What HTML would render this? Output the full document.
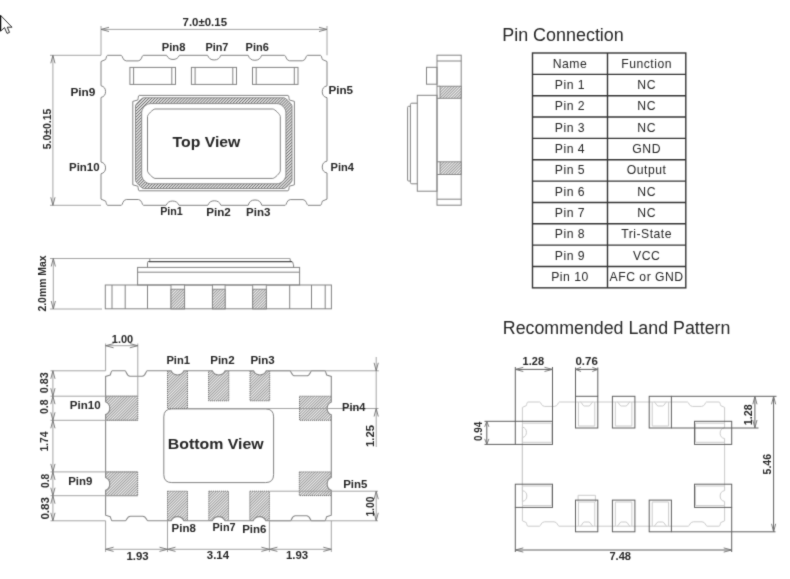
<!DOCTYPE html>
<html><head><meta charset="utf-8"><title>Crystal Oscillator Package Drawing</title>
<style>
html,body{margin:0;padding:0;background:#fff;}
body{width:790px;height:579px;overflow:hidden;}
svg{display:block;font-family:"Liberation Sans",sans-serif;filter:grayscale(1);}
.m{fill:none;stroke:#838383;stroke-width:1;}
.d line{stroke:#9a9a9a;stroke-width:0.9;fill:none;}
.d polyline{stroke:#737373;stroke-width:0.9;fill:none;}
.ar{fill:none;stroke-width:0.9;}
text{fill:#262626;}
</style></head><body>
<svg width="790" height="579" viewBox="0 0 790 579">
<defs>
<filter id="soft" x="0" y="0" width="790" height="579" filterUnits="userSpaceOnUse" color-interpolation-filters="sRGB"><feConvolveMatrix order="3" kernelMatrix="0.02 0.09 0.02 0.09 0.56 0.09 0.02 0.09 0.02" edgeMode="duplicate" preserveAlpha="true"/></filter>
<pattern id="h" patternUnits="userSpaceOnUse" width="2.1" height="2.1" patternTransform="rotate(45)">
<rect width="2.1" height="2.1" fill="#e6e6e6"/>
<rect x="0" y="0" width="0.8" height="2.1" fill="#6c6c6c"/>
</pattern>
<pattern id="h2" patternUnits="userSpaceOnUse" width="2.0" height="2.0" patternTransform="rotate(45)">
<rect width="2.0" height="2.0" fill="#f0f0f0"/>
<rect x="0" y="0" width="0.65" height="2.0" fill="#6e6e6e"/>
</pattern>
</defs>
<g filter="url(#soft)">
<rect width="790" height="579" fill="#fff"/>

<path d="M0.6,15.4 L0.6,31.2 L4.5,27.6 L7,33.4 L9.5,32.4 L7.3,27.2 L12,27.2 Z" fill="#fff" stroke="#1a1a1a" stroke-width="0.9" stroke-linejoin="miter"/><line x1="0.6" y1="15.6" x2="0.6" y2="30.8" stroke="#111" stroke-width="1.2"/>
<path class="m" d="M107.6,55.3 L121.2,55.3 C122.5,55.3 122.7,60.9 126.2,60.9 L138.2,60.9 C141.7,60.9 141.9,55.3 143.2,55.3 L166.6,55.3 A7,7 0 0 0 179.4,55.3 L207.6,55.3 A7,7 0 0 0 220.8,55.3 L248.2,55.3 A7,7 0 0 0 261.6,55.3 L284.6,55.3 C285.9,55.3 286.1,60.8 289.6,60.8 L302.3,60.8 C305.8,60.8 306,55.3 307.3,55.3 L320.4,55.3 C321.4,55.3 321.8,58.1 322.4,59.5 L327,61.5 L327,85.8 A6.1,6.1 0 0 0 327,97.7 L327,161.1 A6.1,6.1 0 0 0 327,173 L327,199.1 L322.4,201.1 C321.8,202.5 321.4,205.3 320.4,205.3 L308,205.3 C306.7,205.3 306.5,199.6 303,199.6 L290.2,199.6 C286.7,199.6 286.5,205.3 285.2,205.3 L261.8,205.3 A7,7 0 0 0 248.2,205.3 L220.9,205.3 A7,7 0 0 0 207.8,205.3 L179,205.3 A7,7 0 0 0 166.1,205.3 L143.4,205.3 C142.1,205.3 141.9,199.5 138.4,199.5 L126.3,199.5 C122.8,199.5 122.6,205.3 121.3,205.3 L107.6,205.3 C106.6,205.3 106.2,202.5 105.6,201.1 L101,199.1 L101,173.8 A6.1,6.1 0 0 0 101,162 L101,97.5 A6.1,6.1 0 0 0 101,85.7 L101,61.5 L105.6,59.5 C106.2,58.1 106.6,55.3 107.6,55.3 Z"/>
<rect class="m" x="129.9" y="67.4" width="45.6" height="17"/>
<line x1="133.6" y1="67.4" x2="133.6" y2="84.4" class="m"/>
<line x1="171.8" y1="67.4" x2="171.8" y2="84.4" class="m"/>
<rect class="m" x="191.4" y="67.4" width="45.1" height="17"/>
<line x1="195.1" y1="67.4" x2="195.1" y2="84.4" class="m"/>
<line x1="232.8" y1="67.4" x2="232.8" y2="84.4" class="m"/>
<rect class="m" x="252.5" y="67.4" width="45.5" height="17"/>
<line x1="256.2" y1="67.4" x2="256.2" y2="84.4" class="m"/>
<line x1="294.3" y1="67.4" x2="294.3" y2="84.4" class="m"/>
<path class="m" d="M139.1,95.4 L288.1,95.4 C289.1,95.4 288.8,98.6 289.4,100 L294.4,101.4 L294.4,184.8 L289.4,186.2 C288.8,187.6 289.1,190.8 288.1,190.8 L139.1,190.8 C138.1,190.8 138.4,187.6 137.8,186.2 L132.8,184.8 L132.8,101.4 L137.8,100 C138.4,98.6 138.1,95.4 139.1,95.4 Z"/>
<path d="M143.5,97.8 L284,97.8 C285.6,97.8 292,104.2 292,105.8 L292,180.5 C292,182.1 285.6,188.5 284,188.5 L143.5,188.5 C141.9,188.5 135.5,182.1 135.5,180.5 L135.5,105.8 C135.5,104.2 141.9,97.8 143.5,97.8 Z M150.7,103.6 L276.9,103.6 C281.4,103.6 285.9,108.1 285.9,112.6 L285.9,174.8 C285.9,179.3 281.4,183.8 276.9,183.8 L150.7,183.8 C146.2,183.8 141.7,179.3 141.7,174.8 L141.7,112.6 C141.7,108.1 146.2,103.6 150.7,103.6 Z" fill="url(#h)" fill-rule="evenodd" stroke="#838383" stroke-width="0.9"/>
<path class="m" d="M155,109 L272.8,109 C274.68,109 280.3,114.62 280.3,116.5 L280.3,170.9 C280.3,172.78 274.68,178.4 272.8,178.4 L155,178.4 C153.12,178.4 147.5,172.78 147.5,170.9 L147.5,116.5 C147.5,114.62 153.12,109 155,109 Z"/>
<g class="d">
<line x1="101" y1="26" x2="101" y2="55.3"/>
<line x1="327" y1="26" x2="327" y2="55.3"/>
<line x1="101" y1="29.4" x2="327" y2="29.4"/>
<polyline class="ar" points="109,27.3 101,29.4 109,31.5"/>
<polyline class="ar" points="319,27.3 327,29.4 319,31.5"/>
<line x1="50" y1="55.3" x2="101" y2="55.3"/>
<line x1="50" y1="205.3" x2="101" y2="205.3"/>
<line x1="52.9" y1="55.3" x2="52.9" y2="205.3"/>
<polyline class="ar" points="50.8,63.3 52.9,55.3 55,63.3"/>
<polyline class="ar" points="50.8,197.3 52.9,205.3 55,197.3"/>
</g>
<text id="t0" x="182.6" y="26.2" font-size="10.5" font-weight="bold" textLength="44.4" lengthAdjust="spacingAndGlyphs">7.0&#177;0.15</text>
<text id="t1" transform="translate(50.8,149.2) rotate(-90)" x="0" y="0" font-size="10.5" font-weight="bold" textLength="40.6" lengthAdjust="spacingAndGlyphs">5.0&#177;0.15</text>
<text id="t2" x="161.8" y="51" font-size="10.5" font-weight="bold" textLength="23.6" lengthAdjust="spacingAndGlyphs">Pin8</text>
<text id="t3" x="205.4" y="51" font-size="10.5" font-weight="bold" textLength="23" lengthAdjust="spacingAndGlyphs">Pin7</text>
<text id="t4" x="245.6" y="51" font-size="10.5" font-weight="bold" textLength="23.2" lengthAdjust="spacingAndGlyphs">Pin6</text>
<text id="t5" x="70.4" y="95.8" font-size="10.5" font-weight="bold" textLength="25" lengthAdjust="spacingAndGlyphs">Pin9</text>
<text id="t6" x="69" y="171" font-size="10.5" font-weight="bold" textLength="30.6" lengthAdjust="spacingAndGlyphs">Pin10</text>
<text id="t7" x="328.4" y="94.4" font-size="10.5" font-weight="bold" textLength="24.6" lengthAdjust="spacingAndGlyphs">Pin5</text>
<text id="t8" x="330.6" y="171" font-size="10.5" font-weight="bold" textLength="23.4" lengthAdjust="spacingAndGlyphs">Pin4</text>
<text id="t9" x="160.2" y="215.4" font-size="10.5" font-weight="bold" textLength="22.6" lengthAdjust="spacingAndGlyphs">Pin1</text>
<text id="t10" x="206.2" y="215.8" font-size="10.5" font-weight="bold" textLength="24.6" lengthAdjust="spacingAndGlyphs">Pin2</text>
<text id="t11" x="246" y="215.8" font-size="10.5" font-weight="bold" textLength="24.4" lengthAdjust="spacingAndGlyphs">Pin3</text>
<text id="t12" x="172.6" y="147.2" font-size="14.3" font-weight="bold" textLength="67.8" lengthAdjust="spacingAndGlyphs">Top View</text>
<g class="m">
<rect x="437" y="55.2" width="24.2" height="150"/>
<line x1="437" y1="61" x2="461.2" y2="61"/>
<line x1="437" y1="199.2" x2="461.2" y2="199.2"/>
<rect x="426.5" y="67.3" width="10.5" height="16.9"/>
<rect x="417.3" y="95.3" width="19.7" height="95.9"/>
<path d="M417.3,103.2 L411.8,103.2 Q410.4,103.2 410.4,104.6 L410.4,182.4 Q410.4,183.8 411.8,183.8 L417.3,183.8"/>
<path d="M410.4,106.3 L408.6,106.3 Q407.6,106.3 407.6,107.3 L407.6,180 Q407.6,181 408.6,181 L410.4,181"/>
</g>
<rect x="440" y="86.2" width="21.2" height="12.1" fill="url(#h2)" stroke="#838383" stroke-width="0.9"/>
<line x1="437" y1="86.2" x2="440" y2="86.2" class="m"/>
<line x1="437" y1="98.3" x2="440" y2="98.3" class="m"/>
<rect x="440" y="161.8" width="21.2" height="12.7" fill="url(#h2)" stroke="#838383" stroke-width="0.9"/>
<line x1="437" y1="161.8" x2="440" y2="161.8" class="m"/>
<line x1="437" y1="174.5" x2="440" y2="174.5" class="m"/>
<g class="m">
<rect x="105.3" y="285" width="226.1" height="23.8"/>
<line x1="112" y1="285" x2="112" y2="308.8"/>
<line x1="125.2" y1="285" x2="125.2" y2="308.8"/>
<line x1="147.5" y1="285" x2="147.5" y2="308.8"/>
<line x1="289.7" y1="285" x2="289.7" y2="308.8"/>
<line x1="311.5" y1="285" x2="311.5" y2="308.8"/>
<line x1="325.2" y1="285" x2="325.2" y2="308.8"/>
<rect x="137.6" y="267.4" width="162" height="17.6"/>
<line x1="137.6" y1="272.2" x2="299.6" y2="272.2"/>
<path d="M147.5,267.4 L147.5,262.5 Q147.5,261.5 148.5,261.5 L292,261.5 C293,261.5 293,264.5 293.6,265 L293.6,267.4"/>
<path d="M149.8,258.6 L149.8,261.4 M290.2,258.6 L290.2,261.4"/>
</g>
<line x1="148.5" y1="261.6" x2="292" y2="261.6" stroke="#4a4a4a" stroke-width="1.1"/>
<rect x="171" y="285" width="13.6" height="23.8" fill="#fff" stroke="#838383" stroke-width="0.9"/>
<rect x="171" y="289.2" width="13.6" height="19.6" fill="url(#h2)" stroke="#838383" stroke-width="0.9"/>
<rect x="212.4" y="285" width="12.7" height="23.8" fill="#fff" stroke="#838383" stroke-width="0.9"/>
<rect x="212.4" y="289.2" width="12.7" height="19.6" fill="url(#h2)" stroke="#838383" stroke-width="0.9"/>
<rect x="252.7" y="285" width="13.6" height="23.8" fill="#fff" stroke="#838383" stroke-width="0.9"/>
<rect x="252.7" y="289.2" width="13.6" height="19.6" fill="url(#h2)" stroke="#838383" stroke-width="0.9"/>
<g class="d">
<line x1="50" y1="258.5" x2="290" y2="258.5"/>
<line x1="50" y1="309" x2="102" y2="309"/>
<line x1="53.3" y1="258.5" x2="53.3" y2="309"/>
<polyline class="ar" points="51.2,266.5 53.3,258.5 55.4,266.5"/>
<polyline class="ar" points="51.2,301 53.3,309 55.4,301"/>
</g>
<text id="t13" transform="translate(46,311.6) rotate(-90)" x="0" y="0" font-size="10.5" font-weight="bold" textLength="56.2" lengthAdjust="spacingAndGlyphs">2.0mm Max</text>
<clipPath id="bclip"><path d="M112.2,370.8 L125,370.8 C126.3,370.8 126.5,376.3 130,376.3 L142.2,376.3 C145.7,376.3 145.9,370.8 147.2,370.8 L171.1,370.8 A7,7 0 0 0 183.9,370.8 L212.3,370.8 A7,7 0 0 0 225.1,370.8 L253.5,370.8 A7,7 0 0 0 266.3,370.8 L289.9,370.8 C291.2,370.8 291.4,375.8 294.9,375.8 L306.7,375.8 C310.2,375.8 310.4,370.8 311.7,370.8 L324.7,370.8 C325.7,370.8 326.1,373.6 326.7,375 L331.3,376.4 L331.3,402 A7,7 0 0 0 331.3,414.8 L331.3,477.5 A7,7 0 0 0 331.3,490.3 L331.3,515.2 L326.7,516.6 C326.1,518 325.7,520.8 324.7,520.8 L311.6,520.8 C310.3,520.8 310.1,515.8 306.6,515.8 L295.3,515.8 C291.8,515.8 291.6,520.8 290.3,520.8 L265.9,520.8 A7,7 0 0 0 253.1,520.8 L225,520.8 A7,7 0 0 0 212.2,520.8 L183.9,520.8 A7,7 0 0 0 171.1,520.8 L147.8,520.8 C146.5,520.8 146.3,516.2 142.8,516.2 L130.4,516.2 C126.9,516.2 126.7,520.8 125.4,520.8 L112.2,520.8 C111.2,520.8 110.8,518 110.2,516.6 L105.6,515.2 L105.6,490.3 A7,7 0 0 0 105.6,477.5 L105.6,414.6 A7,7 0 0 0 105.6,401.8 L105.6,376.4 L110.2,375 C110.8,373.6 111.2,370.8 112.2,370.8 Z"/></clipPath>
<g clip-path="url(#bclip)">
<rect x="167.5" y="370.8" width="20" height="37.7" fill="url(#h2)" stroke="#777" stroke-width="1" stroke-dasharray="1.2 0.8"/>
<rect x="208.6" y="370.8" width="20.2" height="30" fill="url(#h2)" stroke="#777" stroke-width="1" stroke-dasharray="1.2 0.8"/>
<rect x="250" y="370.8" width="19.7" height="30" fill="url(#h2)" stroke="#777" stroke-width="1" stroke-dasharray="1.2 0.8"/>
<rect x="167.5" y="491.2" width="20" height="29.6" fill="url(#h2)" stroke="#777" stroke-width="1" stroke-dasharray="1.2 0.8"/>
<rect x="208.8" y="491.2" width="19.7" height="29.6" fill="url(#h2)" stroke="#777" stroke-width="1" stroke-dasharray="1.2 0.8"/>
<rect x="249.8" y="491.2" width="19.6" height="29.6" fill="url(#h2)" stroke="#777" stroke-width="1" stroke-dasharray="1.2 0.8"/>
<rect x="105.6" y="396.2" width="32.2" height="24.1" fill="url(#h2)" stroke="#777" stroke-width="1" stroke-dasharray="1.2 0.8"/>
<rect x="105.6" y="471.9" width="32.1" height="23.8" fill="url(#h2)" stroke="#777" stroke-width="1" stroke-dasharray="1.2 0.8"/>
<rect x="299.5" y="396.2" width="31.8" height="24.1" fill="url(#h2)" stroke="#777" stroke-width="1" stroke-dasharray="1.2 0.8"/>
<rect x="299.3" y="471.9" width="32" height="23.7" fill="url(#h2)" stroke="#777" stroke-width="1" stroke-dasharray="1.2 0.8"/>
</g>
<path d="M112.2,370.8 L125,370.8 C126.3,370.8 126.5,376.3 130,376.3 L142.2,376.3 C145.7,376.3 145.9,370.8 147.2,370.8 L171.1,370.8 A7,7 0 0 0 183.9,370.8 L212.3,370.8 A7,7 0 0 0 225.1,370.8 L253.5,370.8 A7,7 0 0 0 266.3,370.8 L289.9,370.8 C291.2,370.8 291.4,375.8 294.9,375.8 L306.7,375.8 C310.2,375.8 310.4,370.8 311.7,370.8 L324.7,370.8 C325.7,370.8 326.1,373.6 326.7,375 L331.3,376.4 L331.3,402 A7,7 0 0 0 331.3,414.8 L331.3,477.5 A7,7 0 0 0 331.3,490.3 L331.3,515.2 L326.7,516.6 C326.1,518 325.7,520.8 324.7,520.8 L311.6,520.8 C310.3,520.8 310.1,515.8 306.6,515.8 L295.3,515.8 C291.8,515.8 291.6,520.8 290.3,520.8 L265.9,520.8 A7,7 0 0 0 253.1,520.8 L225,520.8 A7,7 0 0 0 212.2,520.8 L183.9,520.8 A7,7 0 0 0 171.1,520.8 L147.8,520.8 C146.5,520.8 146.3,516.2 142.8,516.2 L130.4,516.2 C126.9,516.2 126.7,520.8 125.4,520.8 L112.2,520.8 C111.2,520.8 110.8,518 110.2,516.6 L105.6,515.2 L105.6,490.3 A7,7 0 0 0 105.6,477.5 L105.6,414.6 A7,7 0 0 0 105.6,401.8 L105.6,376.4 L110.2,375 C110.8,373.6 111.2,370.8 112.2,370.8 Z" fill="none" stroke="#888" stroke-width="1.1"/>
<path class="m" d="M171.8,408.9 L265.6,408.9 Q273.6,408.9 273.6,416.9 L273.6,474.6 Q273.6,482.6 265.6,482.6 L171.8,482.6 Q163.8,482.6 163.8,474.6 L163.8,416.9 Q163.8,408.9 171.8,408.9 Z"/>
<text id="t14" x="167.8" y="448.6" font-size="14.5" font-weight="bold" textLength="95.8" lengthAdjust="spacingAndGlyphs">Bottom View</text>
<g class="d">
<line x1="50.5" y1="370.8" x2="105.6" y2="370.8"/>
<line x1="50.5" y1="396.2" x2="137.8" y2="396.2"/>
<line x1="50.5" y1="420.3" x2="137.8" y2="420.3"/>
<line x1="50.5" y1="471.9" x2="137.7" y2="471.9"/>
<line x1="50.5" y1="495.7" x2="137.7" y2="495.7"/>
<line x1="50.5" y1="520.8" x2="105.6" y2="520.8"/>
<line x1="52.9" y1="370.8" x2="52.9" y2="520.8"/>
<polyline class="ar" points="50.8,378.8 52.9,370.8 55,378.8"/>
<polyline class="ar" points="50.8,404.2 52.9,396.2 55,404.2"/>
<polyline class="ar" points="50.8,428.3 52.9,420.3 55,428.3"/>
<polyline class="ar" points="50.8,479.9 52.9,471.9 55,479.9"/>
<polyline class="ar" points="50.8,503.7 52.9,495.7 55,503.7"/>
<polyline class="ar" points="50.8,388.2 52.9,396.2 55,388.2"/>
<polyline class="ar" points="50.8,412.3 52.9,420.3 55,412.3"/>
<polyline class="ar" points="50.8,463.9 52.9,471.9 55,463.9"/>
<polyline class="ar" points="50.8,487.7 52.9,495.7 55,487.7"/>
<polyline class="ar" points="50.8,512.8 52.9,520.8 55,512.8"/>
<line x1="105.6" y1="343.5" x2="105.6" y2="370.8"/>
<line x1="137.8" y1="343.5" x2="137.8" y2="396.2"/>
<line x1="105.6" y1="345.7" x2="137.8" y2="345.7"/>
<polyline class="ar" points="113.6,343.6 105.6,345.7 113.6,347.8"/>
<polyline class="ar" points="129.8,343.6 137.8,345.7 129.8,347.8"/>
<line x1="269.7" y1="370.8" x2="378.8" y2="370.8"/>
<line x1="187.5" y1="408.5" x2="378.5" y2="408.5"/>
<line x1="269.4" y1="491.2" x2="378" y2="491.2"/>
<line x1="269.4" y1="520.8" x2="378" y2="520.8"/>
<line x1="376.2" y1="357" x2="376.2" y2="447"/>
<polyline class="ar" points="374.1,362.8 376.2,370.8 378.3,362.8"/>
<polyline class="ar" points="374.1,416.5 376.2,408.5 378.3,416.5"/>
<line x1="376.2" y1="491.2" x2="376.2" y2="520.8"/>
<polyline class="ar" points="374.1,499.2 376.2,491.2 378.3,499.2"/>
<polyline class="ar" points="374.1,512.8 376.2,520.8 378.3,512.8"/>
<line x1="105.6" y1="520.8" x2="105.6" y2="552"/>
<line x1="167.5" y1="520.8" x2="167.5" y2="552"/>
<line x1="269.4" y1="520.8" x2="269.4" y2="552"/>
<line x1="331.3" y1="520.8" x2="331.3" y2="552"/>
<line x1="105.6" y1="549.3" x2="331.3" y2="549.3"/>
<polyline class="ar" points="113.6,547.2 105.6,549.3 113.6,551.4"/>
<polyline class="ar" points="175.5,547.2 167.5,549.3 175.5,551.4"/>
<polyline class="ar" points="277.4,547.2 269.4,549.3 277.4,551.4"/>
<polyline class="ar" points="159.5,547.2 167.5,549.3 159.5,551.4"/>
<polyline class="ar" points="261.4,547.2 269.4,549.3 261.4,551.4"/>
<polyline class="ar" points="323.3,547.2 331.3,549.3 323.3,551.4"/>
</g>
<text id="t15" x="111.8" y="343.4" font-size="10.5" font-weight="bold" textLength="21.4" lengthAdjust="spacingAndGlyphs">1.00</text>
<text id="t16" transform="translate(48,393.2) rotate(-90)" x="0" y="0" font-size="10.5" font-weight="bold" textLength="21" lengthAdjust="spacingAndGlyphs">0.83</text>
<text id="t17" transform="translate(48,414) rotate(-90)" x="0" y="0" font-size="10.5" font-weight="bold" textLength="14.6" lengthAdjust="spacingAndGlyphs">0.8</text>
<text id="t18" transform="translate(48.2,451.6) rotate(-90)" x="0" y="0" font-size="10.5" font-weight="bold" textLength="20" lengthAdjust="spacingAndGlyphs">1.74</text>
<text id="t19" transform="translate(48.8,488) rotate(-90)" x="0" y="0" font-size="10.5" font-weight="bold" textLength="14.2" lengthAdjust="spacingAndGlyphs">0.8</text>
<text id="t20" transform="translate(48.8,519.6) rotate(-90)" x="0" y="0" font-size="10.5" font-weight="bold" textLength="22.6" lengthAdjust="spacingAndGlyphs">0.83</text>
<text id="t21" transform="translate(374,447) rotate(-90)" x="0" y="0" font-size="10.5" font-weight="bold" textLength="22" lengthAdjust="spacingAndGlyphs">1.25</text>
<text id="t22" transform="translate(374,516.6) rotate(-90)" x="0" y="0" font-size="10.5" font-weight="bold" textLength="20" lengthAdjust="spacingAndGlyphs">1.00</text>
<text id="t23" x="126.4" y="560" font-size="10.5" font-weight="bold" textLength="22.2" lengthAdjust="spacingAndGlyphs">1.93</text>
<text id="t24" x="206.8" y="559.2" font-size="10.5" font-weight="bold" textLength="22.2" lengthAdjust="spacingAndGlyphs">3.14</text>
<text id="t25" x="286" y="559.2" font-size="10.5" font-weight="bold" textLength="22.2" lengthAdjust="spacingAndGlyphs">1.93</text>
<text id="t26" x="166.4" y="364" font-size="10.5" font-weight="bold" textLength="23.6" lengthAdjust="spacingAndGlyphs">Pin1</text>
<text id="t27" x="210.2" y="364" font-size="10.5" font-weight="bold" textLength="24.4" lengthAdjust="spacingAndGlyphs">Pin2</text>
<text id="t28" x="250.4" y="364" font-size="10.5" font-weight="bold" textLength="24.4" lengthAdjust="spacingAndGlyphs">Pin3</text>
<text id="t29" x="69.8" y="408.8" font-size="10.5" font-weight="bold" textLength="30.8" lengthAdjust="spacingAndGlyphs">Pin10</text>
<text id="t30" x="68.2" y="484.8" font-size="10.5" font-weight="bold" textLength="24.2" lengthAdjust="spacingAndGlyphs">Pin9</text>
<text id="t31" x="342" y="411.2" font-size="10.5" font-weight="bold" textLength="23.4" lengthAdjust="spacingAndGlyphs">Pin4</text>
<text id="t32" x="343.2" y="487.6" font-size="10.5" font-weight="bold" textLength="24.2" lengthAdjust="spacingAndGlyphs">Pin5</text>
<text id="t33" x="171.6" y="532" font-size="10.5" font-weight="bold" textLength="24.2" lengthAdjust="spacingAndGlyphs">Pin8</text>
<text id="t34" x="212.6" y="530.8" font-size="10.5" font-weight="bold" textLength="23" lengthAdjust="spacingAndGlyphs">Pin7</text>
<text id="t35" x="242.2" y="532.8" font-size="10.5" font-weight="bold" textLength="24.2" lengthAdjust="spacingAndGlyphs">Pin6</text>
<text id="t36" x="502.2" y="40.6" font-size="17.6" textLength="121.6" lengthAdjust="spacingAndGlyphs" fill="#222">Pin Connection</text>
<g stroke="#333" stroke-width="1.4" fill="none">
<rect x="532.5" y="53" width="153.3" height="234.85"/>
<line x1="607.5" y1="53" x2="607.5" y2="287.85"/>
<line x1="532.5" y1="74.35" x2="685.8" y2="74.35"/>
<line x1="532.5" y1="95.7" x2="685.8" y2="95.7"/>
<line x1="532.5" y1="117.05" x2="685.8" y2="117.05"/>
<line x1="532.5" y1="138.4" x2="685.8" y2="138.4"/>
<line x1="532.5" y1="159.75" x2="685.8" y2="159.75"/>
<line x1="532.5" y1="181.1" x2="685.8" y2="181.1"/>
<line x1="532.5" y1="202.45" x2="685.8" y2="202.45"/>
<line x1="532.5" y1="223.8" x2="685.8" y2="223.8"/>
<line x1="532.5" y1="245.15" x2="685.8" y2="245.15"/>
<line x1="532.5" y1="266.5" x2="685.8" y2="266.5"/>
</g>
<g font-size="12.2" fill="#353535" text-anchor="middle" letter-spacing="0.5">
<text x="570" y="67.5">Name</text>
<text x="646.65" y="67.5">Function</text>
<text x="570" y="88.85">Pin 1</text>
<text x="646.65" y="88.85">NC</text>
<text x="570" y="110.2">Pin 2</text>
<text x="646.65" y="110.2">NC</text>
<text x="570" y="131.55">Pin 3</text>
<text x="646.65" y="131.55">NC</text>
<text x="570" y="152.9">Pin 4</text>
<text x="646.65" y="152.9">GND</text>
<text x="570" y="174.25">Pin 5</text>
<text x="646.65" y="174.25">Output</text>
<text x="570" y="195.6">Pin 6</text>
<text x="646.65" y="195.6">NC</text>
<text x="570" y="216.95">Pin 7</text>
<text x="646.65" y="216.95">NC</text>
<text x="570" y="238.3">Pin 8</text>
<text x="646.65" y="238.3">Tri-State</text>
<text x="570" y="259.65">Pin 9</text>
<text x="646.65" y="259.65">VCC</text>
<text x="570" y="281">Pin 10</text>
<text x="646.65" y="281">AFC or GND</text>
</g>
<text id="t37" x="502.8" y="334.4" font-size="17.5" textLength="227.6" lengthAdjust="spacingAndGlyphs" fill="#222">Recommended Land Pattern</text>
<path d="M527.9,402 L539.7,402 C541,402 541.2,406.4 544.7,406.4 L554.4,406.4 C557.9,406.4 558.1,402 559.4,402 L687.5,402 C688.8,402 689,406.4 692.5,406.4 L701.5,406.4 C705,406.4 705.2,402 706.5,402 L719.1,402 C720.1,402 720.1,404.2 720.7,405.6 L724.6,407.4 L724.6,427.8 A5.5,5.5 0 0 0 724.6,438.6 L724.6,490.6 A5.5,5.5 0 0 0 724.6,501.4 L724.6,520.8 L720.7,522.6 C720.1,524 720.1,526.2 719.1,526.2 L707,526.2 C705.7,526.2 705.5,521.8 702,521.8 L693.3,521.8 C689.8,521.8 689.6,526.2 688.3,526.2 L559,526.2 C557.7,526.2 557.5,521.8 554,521.8 L544.5,521.8 C541,521.8 540.8,526.2 539.5,526.2 L527.9,526.2 C526.9,526.2 526.9,524 526.3,522.6 L522.4,520.8 L522.4,437.6 A5.5,5.5 0 0 0 522.4,427 L522.4,501.4 A5.5,5.5 0 0 0 522.4,490.6 L522.4,407.4 L526.3,405.6 C526.9,404.2 526.9,402 527.9,402 Z" fill="none" stroke="#cbcbcb" stroke-width="1"/>
<path d="M578.4,402 L578.4,426 L594.8,426 L594.8,402" fill="none" stroke="#cbcbcb"/>
<path d="M580.4,402 C581.9,402 582.4,406 584.4,406 L588.8,406 C590.8,406 591.3,402 592.8,402" fill="none" stroke="#cbcbcb"/>
<path d="M578.4,526 L578.4,502 L594.8,502 L594.8,526" fill="none" stroke="#cbcbcb"/>
<path d="M580.4,526 C581.9,526 582.4,522 584.4,522 L588.8,522 C590.8,522 591.3,526 592.8,526" fill="none" stroke="#cbcbcb"/>
<path d="M615.3,402 L615.3,426 L631.9,426 L631.9,402" fill="none" stroke="#cbcbcb"/>
<path d="M617.3,402 C618.8,402 619.3,406 621.3,406 L625.9,406 C627.9,406 628.4,402 629.9,402" fill="none" stroke="#cbcbcb"/>
<path d="M615.3,526 L615.3,502 L631.9,502 L631.9,526" fill="none" stroke="#cbcbcb"/>
<path d="M617.3,526 C618.8,526 619.3,522 621.3,522 L625.9,522 C627.9,522 628.4,526 629.9,526" fill="none" stroke="#cbcbcb"/>
<path d="M652.2,402 L652.2,426 L668.6,426 L668.6,402" fill="none" stroke="#cbcbcb"/>
<path d="M654.2,402 C655.7,402 656.2,406 658.2,406 L662.6,406 C664.6,406 665.1,402 666.6,402" fill="none" stroke="#cbcbcb"/>
<path d="M652.2,526 L652.2,502 L668.6,502 L668.6,526" fill="none" stroke="#cbcbcb"/>
<path d="M654.2,526 C655.7,526 656.2,522 658.2,522 L662.6,522 C664.6,522 665.1,526 666.6,526" fill="none" stroke="#cbcbcb"/>
<path d="M578.1,502 L578.1,495.3 L595.4,495.3 L595.4,502" fill="none" stroke="#cbcbcb"/>
<path d="M522.4,423.2 L551.8,423.2 L551.8,442.3 L522.4,442.3" fill="none" stroke="#cbcbcb"/>
<path d="M724.6,423.2 L695.5,423.2 L695.5,442.3 L724.6,442.3" fill="none" stroke="#cbcbcb"/>
<path d="M522.4,486 L551.8,486 L551.8,505.6 L522.4,505.6" fill="none" stroke="#cbcbcb"/>
<path d="M724.6,486 L695.5,486 L695.5,505.6 L724.6,505.6" fill="none" stroke="#cbcbcb"/>
<g fill="none" stroke="#606060" stroke-width="1">
<rect x="575.5" y="396.3" width="22.3" height="31.7"/>
<rect x="575.5" y="500.1" width="22.3" height="31.7"/>
<rect x="612.4" y="396.3" width="22.5" height="31.7"/>
<rect x="612.4" y="500.1" width="22.5" height="31.7"/>
<rect x="649.2" y="396.3" width="22.2" height="31.7"/>
<rect x="649.2" y="500.1" width="22.2" height="31.7"/>
<rect x="515.3" y="421.3" width="37.2" height="23.1"/>
<rect x="515.3" y="484.2" width="37.2" height="23.2"/>
<rect x="694.5" y="421.3" width="37.2" height="23.1"/>
<rect x="694.5" y="484.2" width="37.2" height="23.2"/>
<line x1="515.3" y1="367" x2="515.3" y2="421.3"/>
<line x1="552.5" y1="367" x2="552.5" y2="421.3"/>
<line x1="515.3" y1="369.4" x2="552.5" y2="369.4"/>
<line x1="575.5" y1="367.5" x2="575.5" y2="396.3"/>
<line x1="597.8" y1="367.5" x2="597.8" y2="396.3"/>
<line x1="575.5" y1="369.4" x2="597.8" y2="369.4"/>
<line x1="484.5" y1="421.3" x2="515.3" y2="421.3"/>
<line x1="484.5" y1="444.4" x2="515.3" y2="444.4"/>
<line x1="486.8" y1="421.3" x2="486.8" y2="444.4"/>
<line x1="671.4" y1="396.3" x2="776.5" y2="396.3"/>
<line x1="671.4" y1="428" x2="758.5" y2="428"/>
<line x1="754.9" y1="396.3" x2="754.9" y2="428"/>
<line x1="773.6" y1="396.3" x2="773.6" y2="531.8"/>
<line x1="671.4" y1="531.8" x2="775.5" y2="531.8"/>
<line x1="515.3" y1="507.4" x2="515.3" y2="552"/>
<line x1="731.7" y1="507.4" x2="731.7" y2="552"/>
<line x1="515.3" y1="550" x2="731.7" y2="550"/>
</g>
<g class="d">
<polyline class="ar" points="523.3,367.3 515.3,369.4 523.3,371.5" stroke="#888"/>
<polyline class="ar" points="544.5,367.3 552.5,369.4 544.5,371.5" stroke="#888"/>
<polyline class="ar" points="581,367.3 575.5,369.4 581,371.5" stroke="#888"/>
<polyline class="ar" points="592.3,367.3 597.8,369.4 592.3,371.5" stroke="#888"/>
<polyline class="ar" points="484.7,426.8 486.8,421.3 488.9,426.8" stroke="#888"/>
<polyline class="ar" points="484.7,438.9 486.8,444.4 488.9,438.9" stroke="#888"/>
<polyline class="ar" points="752.8,404.3 754.9,396.3 757,404.3" stroke="#888"/>
<polyline class="ar" points="752.8,420 754.9,428 757,420" stroke="#888"/>
<polyline class="ar" points="771.5,404.3 773.6,396.3 775.7,404.3" stroke="#888"/>
<polyline class="ar" points="771.5,523.8 773.6,531.8 775.7,523.8" stroke="#888"/>
<polyline class="ar" points="523.3,547.9 515.3,550 523.3,552.1" stroke="#888"/>
<polyline class="ar" points="723.7,547.9 731.7,550 723.7,552.1" stroke="#888"/>
</g>
<text id="t38" x="522.6" y="364.8" font-size="10.5" font-weight="bold" textLength="21.4" lengthAdjust="spacingAndGlyphs">1.28</text>
<text id="t39" x="575.4" y="364.8" font-size="10.5" font-weight="bold" textLength="22.4" lengthAdjust="spacingAndGlyphs">0.76</text>
<text id="t40" transform="translate(481.8,441) rotate(-90)" x="0" y="0" font-size="10.5" font-weight="bold" textLength="19.2" lengthAdjust="spacingAndGlyphs">0.94</text>
<text id="t41" transform="translate(752.4,425.2) rotate(-90)" x="0" y="0" font-size="10.5" font-weight="bold" textLength="20.8" lengthAdjust="spacingAndGlyphs">1.28</text>
<text id="t42" transform="translate(770.8,474.4) rotate(-90)" x="0" y="0" font-size="10.5" font-weight="bold" textLength="20.4" lengthAdjust="spacingAndGlyphs">5.46</text>
<text id="t43" x="609.4" y="560.4" font-size="10.5" font-weight="bold" textLength="21.6" lengthAdjust="spacingAndGlyphs">7.48</text>
</g>
</svg>
</body></html>
